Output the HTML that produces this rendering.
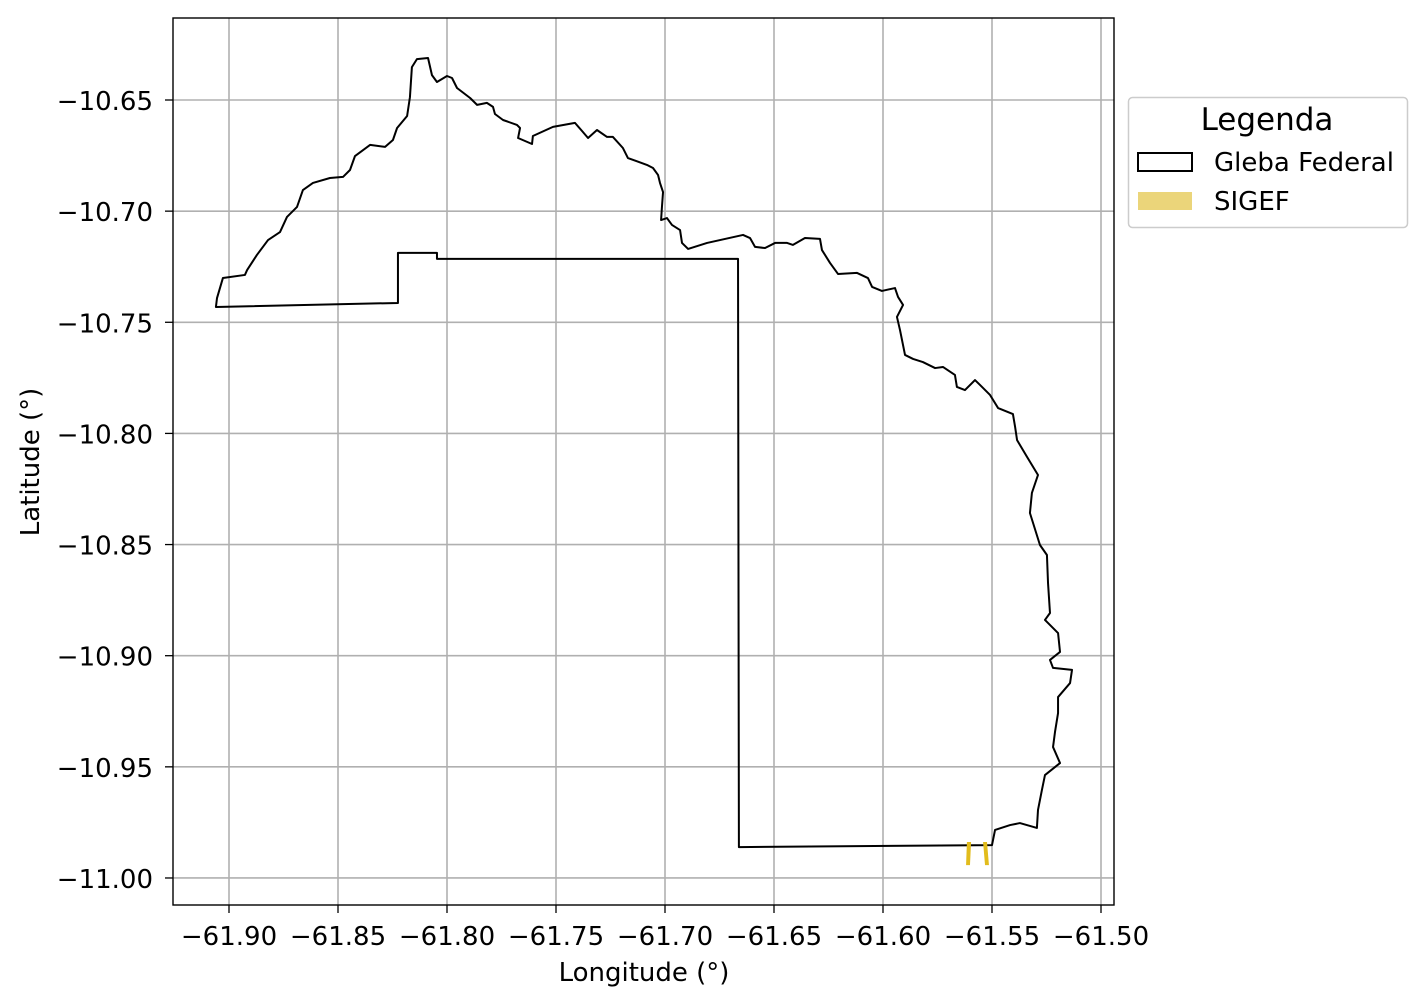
<!DOCTYPE html>
<html><head><meta charset="utf-8"><style>
body{margin:0;background:#fff}
svg{display:block;font-family:"DejaVu Sans","Liberation Sans",sans-serif}
</style></head><body>
<svg id="c" width="1427" height="1006"></svg>
<script>
const xTicks=[-61.90,-61.85,-61.80,-61.75,-61.70,-61.65,-61.60,-61.55,-61.50];
const yTicks=[-10.65,-10.70,-10.75,-10.80,-10.85,-10.90,-10.95,-11.00];
const glebaLon=[-61.9060,-61.9055,-61.9028,-61.8927,-61.8917,-61.8872,-61.8821,-61.8766,-61.8734,-61.8688,-61.8661,-61.8615,-61.8537,-61.8477,-61.8445,-61.8422,-61.8353,-61.8284,-61.8248,-61.8229,-61.8183,-61.8170,-61.8161,-61.8138,-61.8087,-61.8069,-61.8046,-61.8000,-61.7977,-61.7954,-61.7894,-61.7862,-61.7817,-61.7789,-61.7780,-61.7743,-61.7679,-61.7665,-61.7674,-61.7610,-61.7606,-61.7514,-61.7413,-61.7381,-61.7353,-61.7312,-61.7266,-61.7239,-61.7193,-61.7170,-61.7083,-61.7055,-61.7032,-61.7023,-61.7009,-61.7014,-61.7018,-61.6991,-61.6968,-61.6931,-61.6922,-61.6894,-61.6807,-61.6642,-61.6610,-61.6587,-61.6541,-61.6495,-61.6440,-61.6413,-61.6358,-61.6289,-61.6280,-61.6243,-61.6206,-61.6119,-61.6069,-61.6050,-61.6005,-61.5945,-61.5931,-61.5908,-61.5936,-61.5922,-61.5899,-61.5862,-61.5817,-61.5761,-61.5725,-61.5670,-61.5661,-61.5624,-61.5578,-61.5555,-61.5509,-61.5472,-61.5404,-61.5394,-61.5385,-61.5339,-61.5289,-61.5317,-61.5326,-61.5280,-61.5248,-61.5243,-61.5234,-61.5257,-61.5197,-61.5188,-61.5234,-61.5220,-61.5133,-61.5142,-61.5197,-61.5197,-61.5211,-61.5220,-61.5188,-61.5257,-61.5271,-61.5289,-61.5294,-61.5372,-61.5417,-61.5486,-61.5500,-61.6661,-61.6665,-61.8046,-61.8046,-61.8225,-61.8225];
const glebaLat=[-10.7431,-10.7391,-10.7301,-10.7287,-10.7265,-10.7197,-10.7130,-10.7094,-10.7026,-10.6981,-10.6905,-10.6873,-10.6851,-10.6846,-10.6815,-10.6752,-10.6702,-10.6711,-10.6680,-10.6626,-10.6572,-10.6487,-10.6352,-10.6316,-10.6311,-10.6388,-10.6419,-10.6392,-10.6401,-10.6446,-10.6491,-10.6522,-10.6513,-10.6531,-10.6563,-10.6590,-10.6612,-10.6626,-10.6671,-10.6698,-10.6662,-10.6621,-10.6603,-10.6639,-10.6671,-10.6635,-10.6666,-10.6666,-10.6716,-10.6761,-10.6792,-10.6806,-10.6837,-10.6873,-10.6914,-10.6981,-10.7040,-10.7031,-10.7062,-10.7085,-10.7143,-10.7170,-10.7143,-10.7107,-10.7121,-10.7161,-10.7166,-10.7143,-10.7143,-10.7152,-10.7121,-10.7125,-10.7175,-10.7233,-10.7283,-10.7278,-10.7301,-10.7341,-10.7359,-10.7346,-10.7386,-10.7422,-10.7476,-10.7535,-10.7647,-10.7665,-10.7679,-10.7706,-10.7701,-10.7737,-10.7791,-10.7805,-10.7760,-10.7782,-10.7827,-10.7886,-10.7913,-10.7971,-10.8030,-10.8106,-10.8187,-10.8268,-10.8358,-10.8502,-10.8547,-10.8673,-10.8808,-10.8839,-10.8898,-10.8983,-10.9019,-10.9055,-10.9064,-10.9123,-10.9186,-10.9258,-10.9343,-10.9411,-10.9483,-10.9537,-10.9604,-10.9694,-10.9775,-10.9753,-10.9762,-10.9784,-10.9852,-10.9861,-10.7215,-10.7215,-10.7188,-10.7188,-10.7413];
const sigefALon=[-61.5619,-61.5601,-61.5596,-61.5615];
const sigefALat=[-10.9942,-10.9942,-10.9838,-10.9838];
const sigefBLon=[-61.5532,-61.5514,-61.5523,-61.5541];
const sigefBLat=[-10.9942,-10.9942,-10.9838,-10.9838];

const L=173,R=1114,T=18,B=905;
const sx=v=>229+(v+61.90)*2180;
const sy=v=>100-(v+10.65)*2222.8;
const NS='http://www.w3.org/2000/svg';
const svg=document.getElementById('c');
function mk(tag,attrs,parent){const e=document.createElementNS(NS,tag);for(const k in attrs)e.setAttribute(k,attrs[k]);(parent||svg).appendChild(e);return e;}

const grid=mk('g',{});


xTicks.forEach((t,i)=>{const x=sx(t);
 const g=mk('line',{x1:x,x2:x,y1:T,y2:B,stroke:'#b0b0b0','stroke-width':1.6},grid);
 
 
 const tk=mk('line',{x1:x,x2:x,y1:B,y2:B+8,stroke:'#000','stroke-width':1.3});
 
 
 const tx=mk('text',{x:x,y:945,'text-anchor':'middle','font-size':26});
 tx.textContent=t.toFixed(2).replace('-','\u2212');
 
 
});
yTicks.forEach(t=>{const y=sy(t);
 const g=mk('line',{x1:L,x2:R,y1:y,y2:y,stroke:'#b0b0b0','stroke-width':1.6},grid);
 
 
 const tk=mk('line',{x1:L-8,x2:L,y1:y,y2:y,stroke:'#000','stroke-width':1.3});
 
 
 const tx=mk('text',{x:L-20,y:y+10,'text-anchor':'end','font-size':26});
 tx.textContent=t.toFixed(2).replace('-','\u2212');
 
 
});

const poly=mk('polygon',{points:glebaLon.map((v,i)=>sx(v)+','+sy(glebaLat[i])).join(' '),fill:'none',stroke:'#000','stroke-width':2,'stroke-linejoin':'round'});


[[sigefALon,sigefALat],[sigefBLon,sigefBLat]].forEach(([lo,la])=>{
 const p=mk('polygon',{points:lo.map((v,i)=>sx(v)+','+sy(la[i])).join(' '),fill:'#e2bc1c'});
 
 
});

const fr=mk('rect',{x:L,y:T,width:R-L,height:B-T,fill:'none',stroke:'#000','stroke-width':1.4});



const xt=mk('text',{x:644,y:981,'text-anchor':'middle','font-size':26});
xt.textContent='Longitude (°)';


const yt=mk('text',{x:0,y:0,'text-anchor':'middle','font-size':26,transform:'translate(39,462) rotate(-90)'});
yt.textContent='Latitude (°)';



const lg=mk('g',{});


mk('rect',{x:1128.5,y:97.5,width:279,height:130,rx:4,fill:'#fff',stroke:'#cccccc','stroke-width':1.5},lg);
const lt=mk('text',{x:1267,y:130,'text-anchor':'middle','font-size':31},lg);
lt.textContent='Legenda';


const e1=mk('g',{},lg);


mk('rect',{x:1138,y:153,width:54,height:18,fill:'none',stroke:'#000','stroke-width':2},e1);
const t1=mk('text',{x:1214,y:171,'font-size':26},e1);t1.textContent='Gleba Federal';
const e2=mk('g',{},lg);


mk('rect',{x:1138,y:192,width:54,height:18,fill:'#ebd57a'},e2);
const t2=mk('text',{x:1214,y:210,'font-size':26},e2);t2.textContent='SIGEF';
</script>
</body></html>
